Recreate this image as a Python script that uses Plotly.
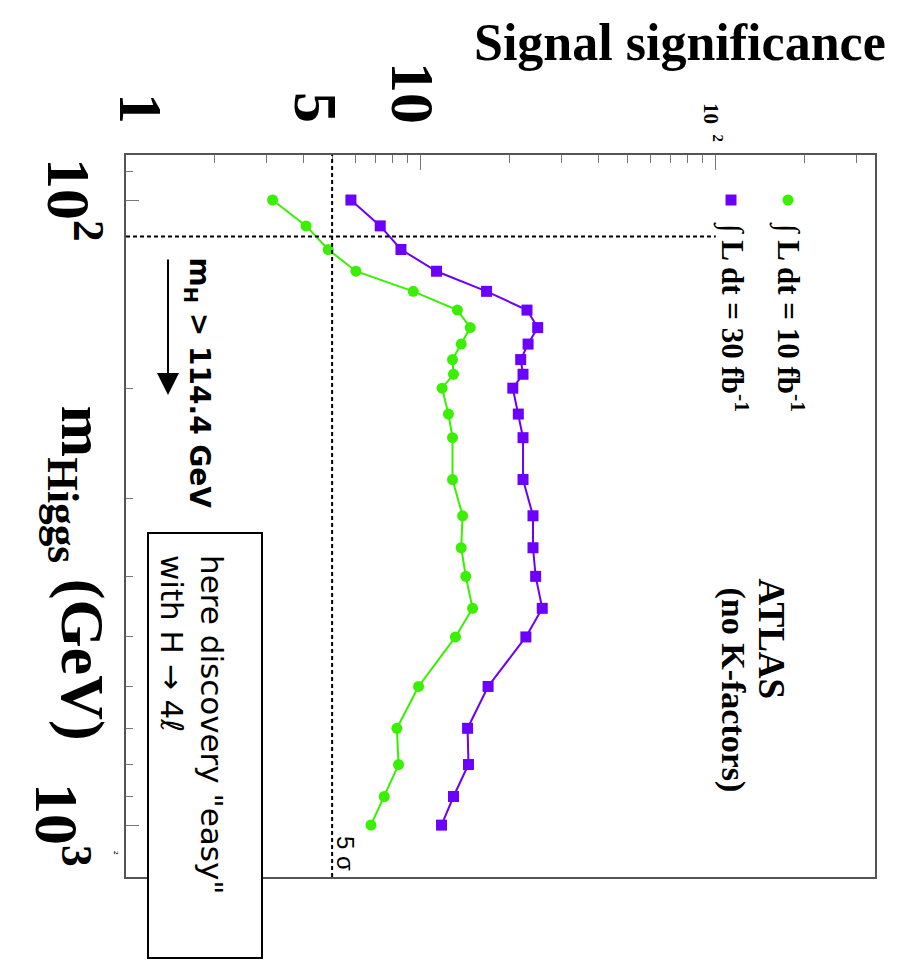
import plotly.graph_objects as go

# Higgs mass points (GeV) and expected signal significance for two luminosities
MASS = [100, 110, 120, 130, 140, 150, 160, 170, 180, 190, 200, 220, 240,
        280, 320, 360, 400, 450, 500, 600, 700, 800, 900, 1000]
SIG_10FB = [3.14, 4.08, 4.85, 6.02, 9.42, 13.3, 14.7, 13.7, 12.8, 12.9, 11.8,
            12.4, 12.8, 12.8, 13.85, 13.7, 14.2, 14.97, 13.1, 9.82, 8.29, 8.40,
            7.51, 6.77]
SIG_30FB = [5.79, 7.28, 8.56, 11.3, 16.7, 22.9, 24.9, 23.1, 21.8, 22.2, 20.5,
            21.4, 22.2, 22.2, 24.0, 24.0, 24.5, 25.8, 22.7, 16.9, 14.4, 14.5,
            12.9, 11.75]

SERIES_NAMES = ["\u222b L dt = 10 fb<sup>-1</sup>", "\u222b L dt = 30 fb<sup>-1</sup>"]
SIG_TICK_TEXT = ["1", "5", "10"]
SIG_TICK_VALS = [1, 5, 10]
MASS_TICK_TEXT = ["10<sup>2</sup>", "10<sup>3</sup>"]
MASS_TICK_VALS = [100, 1000]
DISCOVERY_SIGMA = 5
LEP_LIMIT = 114.4

GREEN = "#38f000"
PURPLE = "#6c00ff"
SERIF = "Liberation Serif, Times New Roman, serif"
HAND = "Comic Sans MS, DejaVu Sans, sans-serif"
SANS = "Liberation Sans, Arial, sans-serif"

W, H = 901, 969
L, R, T, B = 126, 26, 155, 92
PW, PH = W - L - R, H - T - B


def px(x):
    return (x - L) / PW


def py(y):
    return (H - B - y) / PH


fig = go.Figure()

fig.add_trace(go.Scatter(
    x=SIG_10FB, y=MASS, mode="lines+markers", name=SERIES_NAMES[0],
    line=dict(color=GREEN, width=2),
    marker=dict(color=GREEN, size=11, symbol="circle"),
))
fig.add_trace(go.Scatter(
    x=SIG_30FB, y=MASS, mode="lines+markers", name=SERIES_NAMES[1],
    line=dict(color=PURPLE, width=2),
    marker=dict(color=PURPLE, size=11, symbol="square"),
))

shapes = [
    # 5 sigma discovery line
    dict(type="line", xref="x", yref="paper", x0=DISCOVERY_SIGMA, x1=DISCOVERY_SIGMA,
         y0=0, y1=1, line=dict(color="black", width=2, dash="4px,3px")),
    # LEP exclusion limit
    dict(type="line", xref="x", yref="y", x0=1, x1=100, y0=LEP_LIMIT, y1=LEP_LIMIT,
         line=dict(color="black", width=2, dash="4px,3px")),
    # legend keys
    dict(type="circle", xref="paper", yref="paper", xsizemode="pixel", ysizemode="pixel",
         xanchor=px(788), yanchor=py(200), x0=-5.5, x1=5.5, y0=-5.5, y1=5.5,
         fillcolor=GREEN, line=dict(width=0)),
    dict(type="rect", xref="paper", yref="paper", xsizemode="pixel", ysizemode="pixel",
         xanchor=px(731), yanchor=py(200), x0=-5.5, x1=5.5, y0=-5.5, y1=5.5,
         fillcolor=PURPLE, line=dict(width=0)),
    # comment box
    dict(type="rect", xref="paper", yref="paper", x0=px(148), x1=px(262),
         y0=py(958), y1=py(533), fillcolor="white",
         line=dict(color="black", width=2), layer="above"),
]

ann = []


def text(s, x, y, size, family=SERIF, angle=90, xanchor="center", yanchor="middle",
         align="center", color="black"):
    ann.append(dict(text=s, x=px(x), y=py(y), xref="paper", yref="paper",
                    showarrow=False, textangle=angle, xanchor=xanchor,
                    yanchor=yanchor, align=align,
                    font=dict(family=family, size=size, color=color)))


# titles
text("<b>Signal significance</b>", 680, 42, 52, angle=0)
ann.append(dict(text="<b>m<sub>Higgs</sub> (GeV)</b>", x=px(38), y=py(573),
                xref="paper", yref="paper", showarrow=False, textangle=90,
                font=dict(family=SERIF, size=62, color="black")))

# significance tick labels along the top
sig_label_pos = [(141, 108), (316, 107), (413, 93)]
for lab, (x, y) in zip(SIG_TICK_TEXT, sig_label_pos):
    text("<b>" + lab + "</b>", x, y, 62)
text("<b>10  <sup>2</sup></b>", 713, 122, 21)

# mass tick labels on the left
mass_label_pos = [(74, 200), (62, 825)]
for lab, (x, y) in zip(MASS_TICK_TEXT, mass_label_pos):
    text("<b>" + lab + "</b>", x, y, 62)
text("<b>2</b>", 116, 853, 7)

# legend text
text("<b>" + SERIES_NAMES[0] + "</b>", 790, 220, 31, yanchor="top")
text("<b>" + SERIES_NAMES[1] + "</b>", 734, 220, 31, yanchor="top")

# experiment label
text("<b>ATLAS</b>", 771, 576, 37, yanchor="top")
text("<b>(no K-factors)</b>", 733, 585, 34, yanchor="top")

# 5 sigma label
text("5 \u03c3", 346, 853, 24, family=SANS)

# LEP limit note with arrow
text("<b>m<sub>H</sub> > 114.4 GeV</b>", 197, 255, 28, family=HAND, yanchor="top")
ann.append(dict(text="", x=px(168), y=py(395), xref="paper", yref="paper",
                ax=0, ay=-137, axref="pixel", ayref="pixel",
                showarrow=True, arrowhead=2, arrowsize=2.2, arrowwidth=2,
                arrowcolor="black"))

# comment in box
text("here discovery \"easy\"<br>with H \u2192 4\u2113", 192, 553, 31,
     family=HAND, yanchor="top", align="left")
ann.append(dict(text="", x=10.3, y=285.7, xref="x", yref="y",
                ax=-161, ay=98, axref="pixel", ayref="pixel",
                showarrow=True, arrowhead=2, arrowsize=1.6, arrowwidth=2,
                arrowcolor="black"))

fig.update_layout(
    width=W, height=H,
    margin=dict(l=L, r=R, t=T, b=B, pad=0),
    paper_bgcolor="white", plot_bgcolor="white",
    showlegend=False,
    shapes=shapes, annotations=ann,
    xaxis=dict(
        type="log", range=[0, 2.54], side="top",
        showgrid=False, zeroline=False, showticklabels=False,
        showline=True, mirror=True, linecolor="#555", linewidth=2,
        ticks="inside", ticklen=15, tickcolor="#777", tickwidth=1,
        tickvals=[10, 100],
        minor=dict(ticks="inside", ticklen=8, tickcolor="#777", tickwidth=1,
                   tickvals=[2, 3, 4, 5, 6, 7, 8, 9, 20, 30, 40, 50, 60, 70, 80, 90,
                             200, 300], showgrid=False),
    ),
    yaxis=dict(
        type="log", range=[3.083, 1.928],
        showgrid=False, zeroline=False, showticklabels=False,
        showline=True, mirror=True, linecolor="#555", linewidth=2,
        ticks="inside", ticklen=13, tickcolor="#777", tickwidth=1,
        tickvals=MASS_TICK_VALS,
        minor=dict(ticks="inside", ticklen=7, tickcolor="#777", tickwidth=1,
                   tickvals=[90, 200, 300, 400, 500, 600, 700, 800, 900],
                   showgrid=False),
    ),
)

fig.write_html("out.html")
